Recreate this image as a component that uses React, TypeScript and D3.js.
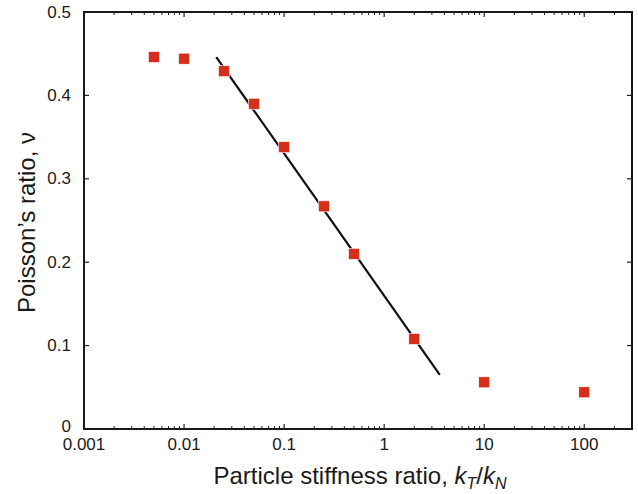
import { useRef, useEffect } from 'react'
import * as d3 from 'd3'

// stiffness ratio kT/kN and measured Poisson's ratio
const stiffness = [0.005, 0.01, 0.025, 0.05, 0.1, 0.25, 0.5, 2, 10, 100]
const poisson = [0.446, 0.444, 0.429, 0.39, 0.338, 0.267, 0.21, 0.108, 0.056, 0.044]

// fitted straight line (linear in log kT/kN)
const fitX = [0.021, 3.6]
const fitY = [0.446, 0.065]

const xTicks = [0.001, 0.01, 0.1, 1, 10, 100]
const xTickLabels = ['0.001', '0.01', '0.1', '1', '10', '100']
const yTicks = [0, 0.1, 0.2, 0.3, 0.4, 0.5]
const yTickLabels = ['0', '0.1', '0.2', '0.3', '0.4', '0.5']

const FONT = "'Liberation Sans', Arial, Helvetica, sans-serif"

export default function App() {
  const svgRef = useRef<SVGSVGElement>(null)

  useEffect(() => {
    const svg = svgRef.current
    if (!svg) return
    const W = 638
    const H = 494
    const margin = { top: 12, right: 6, bottom: 65, left: 84 }
    const iW = W - margin.left - margin.right
    const iH = H - margin.top - margin.bottom

    const sel = d3.select(svg)
    sel.selectAll('*').remove()
    sel.attr('width', W).attr('height', H)
    const g = sel.append('g').attr('transform', `translate(${margin.left},${margin.top})`)

    const x = d3.scaleLog().domain([0.001, 300]).range([0, iW])
    const y = d3.scaleLinear().domain([0, 0.5]).range([iH, 0])

    // minor ticks on log axis (top and bottom, inward)
    const minors: number[] = []
    for (let e = -3; e <= 2; e++) {
      for (let m = 2; m <= 9; m++) {
        const v = m * Math.pow(10, e)
        if (v <= 300) minors.push(v)
      }
    }
    const tickColor = '#222'
    minors.forEach((v) => {
      g.append('line').attr('x1', x(v)).attr('x2', x(v)).attr('y1', iH).attr('y2', iH - 3)
        .attr('stroke', tickColor).attr('stroke-width', 1)
      g.append('line').attr('x1', x(v)).attr('x2', x(v)).attr('y1', 0).attr('y2', 3)
        .attr('stroke', tickColor).attr('stroke-width', 1)
    })
    xTicks.forEach((t, i) => {
      g.append('line').attr('x1', x(t)).attr('x2', x(t)).attr('y1', iH).attr('y2', iH - 5)
        .attr('stroke', tickColor).attr('stroke-width', 1.2)
      g.append('line').attr('x1', x(t)).attr('x2', x(t)).attr('y1', 0).attr('y2', 5)
        .attr('stroke', tickColor).attr('stroke-width', 1.2)
      g.append('text')
        .attr('x', x(t)).attr('y', iH + 21)
        .attr('text-anchor', 'middle')
        .attr('fill', '#1a1a1a').attr('font-size', '17px')
        .attr('font-family', FONT)
        .text(xTickLabels[i])
    })

    yTicks.forEach((t, i) => {
      g.append('line').attr('x1', 0).attr('x2', 5).attr('y1', y(t)).attr('y2', y(t))
        .attr('stroke', tickColor).attr('stroke-width', 1.2)
      g.append('line').attr('x1', iW).attr('x2', iW - 5).attr('y1', y(t)).attr('y2', y(t))
        .attr('stroke', tickColor).attr('stroke-width', 1.2)
      g.append('text')
        .attr('x', -13).attr('y', y(t) - (t === 0 ? 3 : 0))
        .attr('text-anchor', 'end').attr('dominant-baseline', 'central')
        .attr('fill', '#1a1a1a').attr('font-size', '17px')
        .attr('font-family', FONT)
        .text(yTickLabels[i])
    })

    // frame
    g.append('rect')
      .attr('x', 0).attr('y', 0).attr('width', iW).attr('height', iH)
      .attr('fill', 'none').attr('stroke', '#1a1a1a').attr('stroke-width', 2)

    // fit line
    const line = d3.line<number>()
      .x((d) => x(d))
      .y((_, i) => y(fitY[i]))
    g.append('path')
      .attr('d', line(fitX))
      .attr('fill', 'none').attr('stroke', '#111').attr('stroke-width', 2.2)

    // data squares
    const s = 11
    stiffness.forEach((v, i) => {
      g.append('rect')
        .attr('x', x(v) - s / 2).attr('y', y(poisson[i]) - s / 2)
        .attr('width', s).attr('height', s)
        .attr('fill', '#d52f1c')
        .attr('stroke', '#fff').attr('stroke-width', 0.6)
    })

    // axis titles
    const xt = sel.append('text')
      .attr('x', margin.left + iW / 2 + 2).attr('y', 484)
      .attr('text-anchor', 'middle')
      .attr('fill', '#1a1a1a').attr('font-size', '24px')
      .attr('font-family', FONT)
    xt.append('tspan').text('Particle stiffness ratio, ')
    xt.append('tspan').attr('font-style', 'italic').text('k')
    xt.append('tspan').attr('font-style', 'italic').attr('font-size', '16px').attr('dy', 5).text('T')
    xt.append('tspan').attr('dy', -5).text('/')
    xt.append('tspan').attr('font-style', 'italic').text('k')
    xt.append('tspan').attr('font-style', 'italic').attr('font-size', '16px').attr('dy', 5).text('N')

    sel.append('text')
      .attr('transform', `translate(35,${margin.top + iH / 2 + 2}) rotate(-90)`)
      .attr('text-anchor', 'middle')
      .attr('fill', '#1a1a1a').attr('font-size', '24px')
      .attr('font-family', FONT)
      .text('Poisson\u2019s ratio, \u03BD')
  }, [])

  return (
    <svg
      ref={svgRef}
      style={{ position: 'fixed', left: 0, top: 0, background: '#fff' }}
    />
  )
}
